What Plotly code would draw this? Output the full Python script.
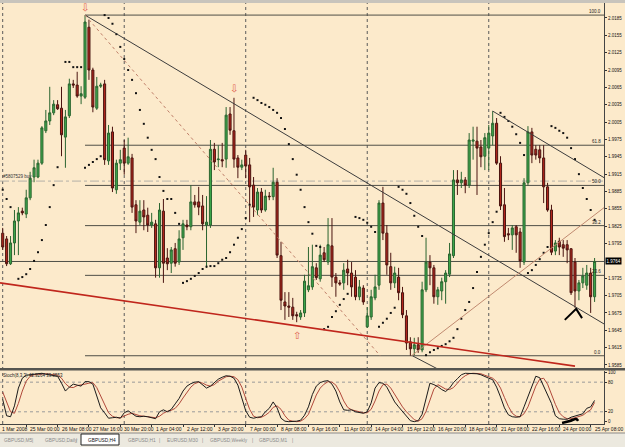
import plotly.graph_objects as go

W, H = 625, 447
BG = '#FCEACB'
FONT = 'Liberation Sans'

# ---------------- data (GBPUSD H4) ----------------
bars = list(range(152))
open_ = [
1.9813, 1.9803, 1.9760, 1.9796, 1.9834, 1.9851, 1.9846, 1.9874, 1.9910, 1.9910,
1.9934, 1.9990, 2.0007, 2.0021, 2.0035, 2.0029, 1.9979, 2.0016, 2.0071, 2.0069,
2.0050, 2.0048, 2.0169, 2.0095, 2.0029, 2.0067, 2.0071, 1.9938, 1.9988, 1.9888,
1.9934, 1.9960, 1.9934, 1.9943, 1.9862, 1.9832, 1.9853, 1.9844, 1.9827, 1.9829,
1.9753, 1.9851, 1.9770, 1.9761, 1.9786, 1.9763, 1.9805, 1.9827, 1.9824, 1.9867,
1.9867, 1.9860, 1.9827, 1.9827, 1.9958, 1.9940, 1.9940, 1.9941, 2.0019, 1.9990,
1.9943, 1.9927, 1.9948, 1.9931, 1.9896, 1.9853, 1.9884, 1.9853, 1.9877, 1.9876,
1.9901, 1.9774, 1.9694, 1.9687, 1.9685, 1.9672, 1.9668, 1.9675, 1.9715, 1.9720,
1.9753, 1.9734, 1.9779, 1.9763, 1.9791, 1.9737, 1.9727, 1.9727, 1.9751, 1.9744,
1.9737, 1.9703, 1.9718, 1.9651, 1.9668, 1.9701, 1.9723, 1.9865, 1.9813, 1.9755,
1.9727, 1.9737, 1.9710, 1.9670, 1.9625, 1.9613, 1.9620, 1.9611, 1.9715, 1.9763,
1.9753, 1.9703, 1.9713, 1.9729, 1.9742, 1.9774, 1.9905, 1.9900, 1.9905, 1.9896,
1.9972, 1.9972, 1.9962, 1.9946, 1.9960, 1.9981, 2.0003, 1.9934, 1.9862, 1.9812,
1.9810, 1.9824, 1.9815, 1.9763, 1.9900, 1.9988, 1.9958, 1.9957, 1.9943, 1.9893,
1.9853, 1.9782, 1.9799, 1.9793, 1.9793, 1.9786, 1.9763, 1.9713, 1.9727, 1.9723,
1.9744, 1.9703]
high = [
1.9822, 1.9808, 1.9808, 1.9853, 1.9858, 1.9857, 1.9888, 1.9919, 1.9940, 1.9940,
1.9998, 2.0026, 2.0066, 2.0043, 2.0043, 2.0066, 2.0026, 2.0080, 2.0078, 2.0092,
2.0067, 2.0190, 2.0182, 2.0099, 2.0083, 2.0073, 2.0078, 2.0000, 1.9997, 1.9940,
1.9957, 1.9974, 1.9978, 1.9950, 1.9870, 1.9870, 1.9870, 1.9857, 1.9848, 1.9836,
1.9865, 1.9872, 1.9787, 1.9789, 1.9796, 1.9818, 1.9836, 1.9836, 1.9896, 1.9879,
1.9893, 1.9879, 1.9877, 1.9974, 1.9969, 1.9965, 1.9969, 2.0031, 2.0031, 2.0047,
1.9948, 1.9940, 1.9957, 1.9943, 1.9910, 1.9891, 1.9891, 1.9888, 1.9884, 1.9926,
1.9908, 1.9798, 1.9711, 1.9711, 1.9701, 1.9677, 1.9680, 1.9741, 1.9789, 1.9793,
1.9761, 1.9793, 1.9789, 1.9839, 1.9839, 1.9744, 1.9732, 1.9761, 1.9767, 1.9763,
1.9749, 1.9732, 1.9723, 1.9685, 1.9715, 1.9741, 1.9870, 1.9893, 1.9827, 1.9779,
1.9755, 1.9753, 1.9720, 1.9680, 1.9633, 1.9632, 1.9633, 1.9729, 1.9805, 1.9775,
1.9758, 1.9720, 1.9736, 1.9749, 1.9796, 1.9922, 1.9922, 1.9919, 1.9910, 1.9986,
1.9997, 1.9997, 1.9974, 1.9986, 2.0000, 2.0024, 2.0012, 1.9946, 1.9891, 1.9822,
1.9827, 1.9827, 1.9822, 1.9908, 1.9998, 1.9995, 1.9965, 1.9965, 1.9965, 1.9900,
1.9862, 1.9801, 1.9805, 1.9801, 1.9801, 1.9787, 1.9770, 1.9732, 1.9753, 1.9758,
1.9753, 1.9770]
low = [
1.9784, 1.9756, 1.9758, 1.9775, 1.9775, 1.9844, 1.9839, 1.9870, 1.9901, 1.9908,
1.9931, 1.9986, 2.0000, 2.0017, 2.0026, 1.9946, 1.9926, 2.0012, 2.0064, 2.0047,
2.0036, 2.0045, 2.0078, 2.0022, 2.0026, 2.0064, 1.9931, 1.9931, 1.9884, 1.9881,
1.9922, 1.9914, 1.9931, 1.9848, 1.9813, 1.9827, 1.9818, 1.9815, 1.9822, 1.9736,
1.9736, 1.9727, 1.9749, 1.9744, 1.9755, 1.9758, 1.9784, 1.9818, 1.9818, 1.9857,
1.9844, 1.9818, 1.9753, 1.9822, 1.9922, 1.9927, 1.9927, 1.9926, 1.9983, 1.9926,
1.9908, 1.9922, 1.9908, 1.9832, 1.9841, 1.9844, 1.9848, 1.9850, 1.9870, 1.9870,
1.9770, 1.9680, 1.9663, 1.9668, 1.9663, 1.9659, 1.9663, 1.9668, 1.9711, 1.9715,
1.9732, 1.9729, 1.9763, 1.9758, 1.9720, 1.9703, 1.9722, 1.9715, 1.9723, 1.9703,
1.9697, 1.9697, 1.9689, 1.9649, 1.9663, 1.9697, 1.9715, 1.9801, 1.9741, 1.9715,
1.9718, 1.9697, 1.9666, 1.9611, 1.9601, 1.9602, 1.9606, 1.9607, 1.9711, 1.9723,
1.9691, 1.9689, 1.9697, 1.9691, 1.9737, 1.9770, 1.9879, 1.9891, 1.9882, 1.9891,
1.9940, 1.9879, 1.9927, 1.9922, 1.9922, 1.9965, 1.9931, 1.9853, 1.9798, 1.9801,
1.9784, 1.9779, 1.9753, 1.9758, 1.9895, 1.9934, 1.9940, 1.9934, 1.9865, 1.9850,
1.9775, 1.9775, 1.9775, 1.9772, 1.9761, 1.9706, 1.9684, 1.9697, 1.9718, 1.9715,
1.9675, 1.9694]
close = [
1.9789, 1.9760, 1.9796, 1.9834, 1.9848, 1.9848, 1.9874, 1.9908, 1.9926, 1.9934,
1.9995, 2.0007, 2.0021, 2.0036, 2.0028, 1.9983, 2.0014, 2.0071, 2.0069, 2.0050,
2.0054, 2.0178, 2.0095, 2.0031, 2.0067, 2.0069, 1.9940, 1.9986, 1.9891, 1.9934,
1.9940, 1.9934, 1.9945, 1.9858, 1.9834, 1.9851, 1.9841, 1.9827, 1.9832, 1.9753,
1.9853, 1.9761, 1.9760, 1.9784, 1.9761, 1.9803, 1.9829, 1.9824, 1.9867, 1.9862,
1.9858, 1.9829, 1.9832, 1.9958, 1.9936, 1.9941, 1.9938, 2.0017, 1.9991, 1.9941,
1.9927, 1.9931, 1.9929, 1.9893, 1.9858, 1.9884, 1.9853, 1.9877, 1.9876, 1.9901,
1.9775, 1.9697, 1.9687, 1.9685, 1.9670, 1.9670, 1.9675, 1.9730, 1.9722, 1.9755,
1.9736, 1.9775, 1.9767, 1.9793, 1.9737, 1.9727, 1.9725, 1.9749, 1.9744, 1.9720,
1.9703, 1.9720, 1.9694, 1.9670, 1.9703, 1.9720, 1.9865, 1.9813, 1.9758, 1.9727,
1.9744, 1.9710, 1.9672, 1.9623, 1.9613, 1.9620, 1.9611, 1.9715, 1.9763, 1.9753,
1.9703, 1.9715, 1.9729, 1.9744, 1.9777, 1.9905, 1.9900, 1.9905, 1.9896, 1.9974,
1.9974, 1.9960, 1.9945, 1.9978, 1.9986, 2.0003, 1.9934, 1.9860, 1.9807, 1.9810,
1.9822, 1.9810, 1.9765, 1.9900, 1.9988, 1.9948, 1.9948, 1.9943, 1.9893, 1.9853,
1.9780, 1.9796, 1.9789, 1.9787, 1.9784, 1.9710, 1.9713, 1.9727, 1.9739, 1.9744,
1.9703, 1.9764]
# Parabolic SAR
sar = [
1.9888, 1.9872, 1.9858, None, 1.9734, 1.9737, 1.9742, 1.9751, 1.9765, 1.9780,
1.9801, 1.9827, 1.9858, 1.9896, 1.9927, None, 2.0109, 2.0109, 2.0100, 2.0100,
2.0100, 1.9926, 1.9931, 1.9936, 1.9941, 1.9946, 2.0190, 2.0185, 2.0175, 2.0157,
2.0135, 2.0114, 2.0095, 2.0078, 2.0055, 2.0026, 2.0002, 1.9978, 1.9957, 1.9941,
1.9910, 1.9886, 1.9872, 1.9872, 1.9848, 1.9829, 1.9727, 1.9730, 1.9734, 1.9739,
1.9744, 1.9751, 1.9755, 1.9756, 1.9756, 1.9761, 1.9767, 1.9770, 1.9780, 1.9793,
1.9805, 1.9820, 1.9839, 1.9862, 2.0047, 2.0043, 2.0038, 2.0035, 2.0031, 2.0026,
2.0021, 2.0012, 1.9993, 1.9967, 1.9941, 1.9914, 1.9888, 1.9858, 1.9832, 1.9812,
1.9791, 1.9789, 1.9647, 1.9651, 1.9668, 1.9678, 1.9689, 1.9699, 1.9708, None,
1.9841, 1.9839, 1.9836, 1.9831, 1.9824, 1.9815, 1.9651, 1.9658, 1.9665, 1.9675,
1.9684, 1.9893, 1.9888, 1.9881, 1.9865, 1.9843, 1.9824, 1.9808, 1.9602, 1.9607,
1.9611, 1.9614, 1.9618, 1.9621, 1.9626, 1.9632, 1.9647, 1.9665, 1.9680, 1.9694,
1.9718, 1.9746, 1.9772, 1.9793, 1.9813, 1.9832, 1.9850, 2.0021, 2.0014, 2.0007,
1.9997, 1.9984, 1.9969, 1.9948, 1.9744, 1.9749, 1.9758, 1.9768, 1.9779, 1.9789,
1.9998, 1.9995, 1.9990, 1.9986, 1.9978, 1.9960, 1.9941, 1.9915, 1.9891, 1.9872,
1.9853, 1.9836]
# Stochastic (8,3,3)
stoch_main = [
45, 12, 10, 32, 68, 88, 94, 95, 97, 98,
98, 96, 95, 94, 92, 78, 62, 70, 76, 74,
72, 81, 81, 76, 50, 28, 18, 7, 8, 9,
7, 18, 22, 16, 11, 10, 11, 10, 8, 6,
20, 24, 20, 25, 36, 47, 62, 72, 77, 80,
81, 74, 68, 72, 80, 86, 90, 93, 92, 88,
74, 50, 22, 9, 7, 9, 10, 20, 27, 40,
28, 7, 1, 0, 0, 1, 3, 13, 30, 55,
72, 79, 82, 83, 76, 62, 40, 24, 23, 24,
20, 18, 17, 20, 38, 68, 79, 78, 70, 55,
40, 30, 20, 10, 2, 0, 2, 15, 45, 78,
75, 71, 65, 61, 68, 79, 87, 95, 98, 98,
98, 97, 95, 91, 88, 85, 70, 50, 28, 14,
10, 9, 10, 30, 50, 73, 92, 89, 72, 52,
37, 12, 6, 5, 5, 9, 11, 13, 16, 27,
30, 43]
stoch_signal = [
60, 40, 20, 17, 37, 62, 82, 92, 95, 96,
97, 97, 96, 95, 94, 88, 77, 70, 69, 73,
74, 76, 78, 79, 69, 52, 33, 18, 11, 8,
8, 12, 15, 17, 14, 12, 11, 10, 10, 8,
11, 17, 21, 23, 27, 36, 48, 60, 70, 77,
80, 78, 74, 72, 75, 82, 87, 91, 92, 91,
85, 70, 47, 25, 11, 8, 9, 13, 19, 29,
32, 25, 12, 3, 1, 0, 1, 6, 15, 34,
54, 68, 76, 81, 80, 74, 60, 42, 29, 24,
22, 21, 18, 18, 25, 42, 62, 75, 76, 68,
55, 42, 30, 20, 11, 4, 1, 6, 21, 46,
66, 75, 70, 66, 65, 69, 78, 87, 93, 97,
98, 98, 97, 94, 91, 88, 81, 68, 49, 31,
17, 11, 10, 16, 30, 51, 72, 86, 88, 76,
55, 35, 18, 10, 6, 6, 8, 11, 13, 19,
24, 39]
for arr in (open_, high, low, close, sar, stoch_main, stoch_signal):
    assert len(arr) == len(bars), len(arr)
stoch_label = 'Stoch(8,3,3) 42.9264 39.0553'

# axis labels
price_ticks = [2.0185, 2.0155, 2.0125, 2.0095, 2.0065, 2.0035, 2.0005, 1.9975, 1.9945,
               1.9915, 1.9885, 1.9855, 1.9825, 1.9795, 1.9735, 1.9705, 1.9675, 1.9645,
               1.9615, 1.9585]
price_labels = ['%.4f' % v for v in price_ticks]
last_price = 1.9764
stoch_ticks = [100, 80, 20, 0]
date_ticks = [6, 14, 22, 30, 38, 46, 54, 62, 70, 78, 86, 94, 102, 110, 118, 126, 134, 142, 150]
date_labels = ['25 Mar 00:00', '26 Mar 08:00', '27 Mar 16:00', '30 Mar 20:00', '1 Apr 04:00',
               '2 Apr 12:00', '3 Apr 20:00', '7 Apr 00:00', '8 Apr 08:00', '9 Apr 16:00',
               '11 Apr 00:00', '14 Apr 04:00', '15 Apr 12:00', '16 Apr 20:00', '18 Apr 04:00',
               '21 Apr 08:00', '22 Apr 16:00', '24 Apr 00:00', '25 Apr 08:00']
first_date_label = '1 Mar 2008'
week_separators = [0, 31, 62, 93, 124]

# Fibonacci retracement (high -> low)
fib_start_bar = 21
fib_levels = [2.0190, 1.9965, 1.98955, 1.9826, 1.9740, 1.9601]
fib_names = ['100.0', '61.8', '50.0', '38.2', '23.6', '0.0']
order_price = 1.9903
order_label = '#5807529 buy'

# drawn trend lines: (bars, prices)
trend_main = ([21, 153.4], [2.0190, 1.9656])
trend_upper = ([125, 153.4], [2.0024, 1.9909])
trend_up_brown = ([104.3, 153.4], [1.9601, 1.9857])
trend_tail = ([104.5, 111.0], [1.9601, 1.9578])
fib_diag = ([21, 96.3], [2.0190, 1.9601])
trend_red = ([-0.69, 146.0], [1.9727, 1.9583])
chevron = ([143.4, 146.3, 147.8], [1.9663, 1.9682, 1.9666])
swoosh = ([142.7, 144.7, 146.3, 146.8], [-2.6, 1.4, 5.5, 1.4])
arrows_down = ([21, 59], [2.0203, 2.0063])
arrows_up = ([75], [1.9636])

tabs = [('GBPUSD,M5', 2), ('|', 30), ('GBPUSD,Daily', 43), ('|', 74), ('GBPUSD,H4', 86),
        ('GBPUSD,H1', 126), ('|', 157), ('EURUSD,M30', 165), ('|', 200),
        ('GBPUSD,Weekly', 208), ('|', 250), ('GBPUSD,M1', 257), ('|', 290)]
active_tab = 'GBPUSD,H4'

# ---------------- geometry ----------------
XR = [-0.69, 153.4]
XD = [0, 604 / W]
def py(px):  # pixel row -> paper fraction
    return 1 - px / H
def pxx(px):
    return px / W

fig = go.Figure()
fig.add_trace(go.Candlestick(
    x=bars, open=open_, high=high, low=low, close=close,
    increasing=dict(line=dict(color='#2b6530', width=1), fillcolor='#3ca64a'),
    decreasing=dict(line=dict(color='#4a1410', width=1), fillcolor='#b3261c'),
    whiskerwidth=0, hoverinfo='skip', showlegend=False, xaxis='x', yaxis='y'))
fig.add_trace(go.Scatter(x=bars, y=sar, mode='markers', xaxis='x', yaxis='y',
                         marker=dict(symbol='square', size=2, color='#111111'),
                         showlegend=False, hoverinfo='skip'))
fig.add_trace(go.Scatter(x=chevron[0], y=chevron[1], mode='lines', xaxis='x', yaxis='y',
                         line=dict(color='black', width=2), showlegend=False, hoverinfo='skip'))
fig.add_trace(go.Scatter(x=bars, y=stoch_signal, mode='lines', xaxis='x2', yaxis='y2',
                         line=dict(color='#b0483a', width=1), showlegend=False, hoverinfo='skip'))
fig.add_trace(go.Scatter(x=bars, y=stoch_main, mode='lines', xaxis='x2', yaxis='y2',
                         line=dict(color='#1a1a1a', width=1), showlegend=False, hoverinfo='skip'))
fig.add_trace(go.Scatter(x=swoosh[0], y=swoosh[1], mode='lines', xaxis='x2', yaxis='y2',
                         line=dict(color='black', width=2.5, shape='spline'),
                         showlegend=False, hoverinfo='skip'))

shapes = []
LINEC = '#4f4f47'
for b in week_separators:
    shapes.append(dict(type='line', xref='x', yref='paper', x0=b, x1=b,
                       y0=py(424), y1=py(3), line=dict(color='#5a5a5a', width=1, dash='dot'),
                       layer='below'))
for lv in fib_levels:
    shapes.append(dict(type='line', xref='x', yref='y', x0=fib_start_bar, x1=XR[1],
                       y0=lv, y1=lv, line=dict(color=LINEC, width=1), layer='below'))
shapes.append(dict(type='line', xref='x', yref='y', x0=XR[0], x1=XR[1], y0=last_price,
                   y1=last_price, line=dict(color=LINEC, width=1), layer='below'))
shapes.append(dict(type='line', xref='x', yref='y', x0=XR[0], x1=XR[1], y0=order_price,
                   y1=order_price, line=dict(color='#b4b0a8', width=1, dash='dashdot'),
                   layer='below'))
for (xs, ys), col, wd, ds in [(trend_main, '#3c3c3c', 1, 'solid'),
                              (trend_upper, '#3c3c3c', 1, 'solid'),
                              (trend_tail, '#3c3c3c', 1, 'solid'),
                              (trend_up_brown, '#c08a70', 1, 'solid'),
                              (fib_diag, '#c0806a', 1, 'dot'),
                              (trend_red, '#c0261c', 1.6, 'solid')]:
    shapes.append(dict(type='line', xref='x', yref='y', x0=xs[0], x1=xs[1], y0=ys[0], y1=ys[1],
                       line=dict(color=col, width=wd, dash=ds)))
for lv in (20, 80):
    shapes.append(dict(type='line', xref='x2', yref='y2', x0=XR[0], x1=XR[1], y0=lv, y1=lv,
                       line=dict(color='#9a9a9a', width=1, dash='dot'), layer='below'))
shapes.append(dict(type='rect', xref='paper', yref='paper', x0=0, x1=1, y0=py(3), y1=1,
                   fillcolor='#c8c4bc', line=dict(width=0)))
shapes.append(dict(type='rect', xref='paper', yref='paper', x0=0, x1=1, y0=py(370.5), y1=py(368),
                   fillcolor='#555550', line=dict(width=0)))
shapes.append(dict(type='rect', xref='paper', yref='paper', x0=0, x1=1, y0=0, y1=py(433),
                   fillcolor='#ECE9DF', line=dict(width=0)))
shapes.append(dict(type='line', xref='paper', yref='paper', x0=0, x1=1, y0=py(433), y1=py(433),
                   line=dict(color='#8a8a8a', width=1)))
shapes.append(dict(type='rect', xref='paper', yref='paper', x0=pxx(81), x1=pxx(119),
                   y0=py(445), y1=py(434), fillcolor='white', line=dict(color='#222222', width=1)))

ann = []
TF = dict(family=FONT, size=5, color='#111111')
for name, lv in zip(fib_names, fib_levels):
    ann.append(dict(x=XR[1], y=lv, xref='x', yref='y', text=name, showarrow=False,
                    xanchor='right', yanchor='bottom', xshift=-1, yshift=-1,
                    font=dict(family=FONT, size=4.5, color='#222222')))
ann.append(dict(x=pxx(605), y=last_price, xref='paper', yref='y', text=f'{last_price:.4f}',
                showarrow=False, xanchor='left', yanchor='middle', bgcolor='black',
                borderpad=0.5, font=dict(family=FONT, size=4.5, color='white')))
for xb, yp in zip(*arrows_down):
    ann.append(dict(x=xb, y=yp, xref='x', yref='y', text='⇩', showarrow=False,
                    font=dict(family='DejaVu Sans', size=10, color='#e0604c')))
for xb, yp in zip(*arrows_up):
    ann.append(dict(x=xb, y=yp, xref='x', yref='y', text='⇧', showarrow=False,
                    font=dict(family='DejaVu Sans', size=10, color='#e0604c')))
ann.append(dict(x=pxx(1), y=order_price, xref='paper', yref='y', text=order_label,
                showarrow=False, xanchor='left', yanchor='bottom',
                font=dict(family=FONT, size=4.5, color='#333333')))
ann.append(dict(x=pxx(1), y=py(371), xref='paper', yref='paper', text=stoch_label,
                showarrow=False, xanchor='left', yanchor='top',
                font=dict(family=FONT, size=4.5, color='#222222')))
for b, t in zip(date_ticks, date_labels):
    ann.append(dict(x=b, y=py(429), xref='x', yref='paper', text=t, showarrow=False,
                    xanchor='left', yanchor='middle', xshift=2, font=TF))
ann.append(dict(x=pxx(0), y=py(429), xref='paper', yref='paper', text=first_date_label,
                showarrow=False, xanchor='left', yanchor='middle', font=TF))
for t, xp in tabs:
    ann.append(dict(x=pxx(xp), y=py(440), xref='paper', yref='paper', text=t, showarrow=False,
                    xanchor='left', yanchor='middle',
                    font=dict(family=FONT, size=4.8,
                              color='#111111' if t == active_tab else '#8a8a8a')))

axis_common = dict(showgrid=False, zeroline=False)
fig.update_layout(
    width=W, height=H, margin=dict(l=0, r=0, t=0, b=0),
    paper_bgcolor=BG, plot_bgcolor=BG, showlegend=False, boxgap=0.25,
    xaxis=dict(domain=XD, range=XR, anchor='y', showticklabels=False,
               rangeslider=dict(visible=False), showline=False, **axis_common),
    xaxis2=dict(domain=XD, range=XR, anchor='y2', matches='x', showticklabels=False,
                tickvals=date_ticks, ticks='outside', ticklen=2, tickcolor='#333333',
                showline=True, linecolor='#444444', linewidth=1, **axis_common),
    yaxis=dict(domain=[py(368), py(3)], range=[1.95798, 2.02109], side='right',
               tickvals=price_ticks, ticktext=price_labels, ticks='outside', ticklen=2,
               tickcolor='#333333', tickfont=dict(family=FONT, size=4.5, color='#111111'),
               showline=True, linecolor='#444444', linewidth=1, anchor='x', **axis_common),
    yaxis2=dict(domain=[py(424), py(370.5)], range=[-4.7, 103.6], side='right',
                tickvals=stoch_ticks, ticktext=[str(v) for v in stoch_ticks], ticks='outside',
                ticklen=2, tickcolor='#333333', tickfont=dict(family=FONT, size=4.5, color='#111111'),
                showline=True, linecolor='#444444', linewidth=1, anchor='x2', **axis_common),
    shapes=shapes, annotations=ann,
)
fig.write_html('out.html')
